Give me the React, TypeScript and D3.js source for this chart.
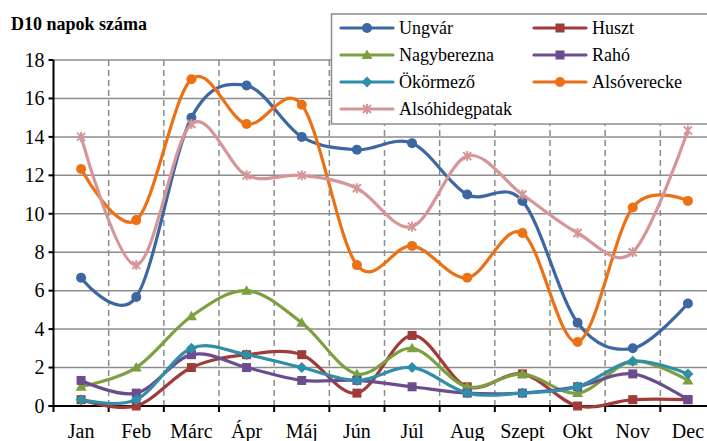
import { useEffect, useRef } from "react";
import * as d3 from "d3";

const months = ["Jan", "Feb", "Márc", "Ápr", "Máj", "Jún", "Júl", "Aug", "Szept", "Okt", "Nov", "Dec"];
const yTicks = [0, 2, 4, 6, 8, 10, 12, 14, 16, 18];

const ungvar = [6.67, 5.67, 15, 16.67, 14, 13.33, 13.67, 11, 10.67, 4.33, 3, 5.33];
const huszt = [0.33, 0, 2, 2.67, 2.67, 0.67, 3.67, 1, 1.67, 0, 0.33, 0.33];
const nagyberezna = [1, 2, 4.67, 6, 4.33, 1.67, 3, 1, 1.67, 0.67, 2.33, 1.33];
const raho = [1.33, 0.67, 2.67, 2, 1.33, 1.33, 1, 0.67, 0.67, 1, 1.67, 0.33];
const okormezo = [0.33, 0.33, 3, 2.67, 2, 1.33, 2, 0.67, 0.67, 1, 2.33, 1.67];
const alsoverecke = [12.33, 9.67, 17, 14.67, 15.67, 7.33, 8.33, 6.67, 9, 3.33, 10.33, 10.67];
const alsohidegpatak = [14, 7.33, 14.67, 12, 12, 11.33, 9.33, 13, 11, 9, 8, 14.33];

type Marker = "circle" | "square" | "triangle" | "diamond" | "star";
type Series = { name: string; values: number[]; color: string; marker: Marker };

const series: Series[] = [
  { name: "Ungvár", values: ungvar, color: "#3d67a2", marker: "circle" },
  { name: "Huszt", values: huszt, color: "#a03b39", marker: "square" },
  { name: "Nagyberezna", values: nagyberezna, color: "#7c9f3f", marker: "triangle" },
  { name: "Rahó", values: raho, color: "#6b4d8d", marker: "square" },
  { name: "Ökörmező", values: okormezo, color: "#2f8ea8", marker: "diamond" },
  { name: "Alsóverecke", values: alsoverecke, color: "#ec7115", marker: "circle" },
  { name: "Alsóhidegpatak", values: alsohidegpatak, color: "#d69596", marker: "star" },
];

const W = 707;
const H = 441;
const FONT = "Liberation Serif, DejaVu Serif, Times New Roman, serif";

function drawMarker(
  g: d3.Selection<SVGGElement, unknown, null, undefined>,
  kind: Marker,
  x: number,
  y: number,
  color: string,
) {
  if (kind === "circle") {
    g.append("circle").attr("cx", x).attr("cy", y).attr("r", 5).attr("fill", color);
  } else if (kind === "square") {
    g.append("rect").attr("x", x - 4.5).attr("y", y - 4.5).attr("width", 9).attr("height", 9).attr("fill", color);
  } else if (kind === "triangle") {
    g.append("path").attr("d", `M${x},${y - 5.5}L${x + 5.5},${y + 4}L${x - 5.5},${y + 4}Z`).attr("fill", color);
  } else if (kind === "diamond") {
    g.append("path").attr("d", `M${x},${y - 5.5}L${x + 5.5},${y}L${x},${y + 5.5}L${x - 5.5},${y}Z`).attr("fill", color);
  } else {
    g.append("path")
      .attr("d", `M${x - 4},${y - 4}L${x + 4},${y + 4}M${x - 4},${y + 4}L${x + 4},${y - 4}M${x},${y - 5}L${x},${y + 5}`)
      .attr("stroke", color)
      .attr("stroke-width", 2)
      .attr("fill", "none");
  }
}

export default function App() {
  const svgRef = useRef<SVGSVGElement>(null);

  useEffect(() => {
    if (!svgRef.current) return;
    const svg = d3.select(svgRef.current);
    svg.selectAll("*").remove();

    const left = 53.5;
    const right = 715.5;
    const top = 60;
    const bottom = 406;

    const x = d3.scaleBand<string>().domain(months).range([left, right]);
    const cx = (i: number) => (x(months[i]) ?? 0) + x.bandwidth() / 2;
    const y = d3.scaleLinear().domain([0, 18]).range([bottom, top]);

    svg.append("rect").attr("width", W).attr("height", H).attr("fill", "#fff");

    // horizontal grid
    svg
      .append("g")
      .selectAll("line")
      .data(yTicks.filter((t) => t > 0))
      .join("line")
      .attr("x1", left)
      .attr("x2", W)
      .attr("y1", (d) => y(d))
      .attr("y2", (d) => y(d))
      .attr("stroke", "#8c8c8c")
      .attr("stroke-width", 1.5);

    // vertical dashed grid at category boundaries
    const bounds = months.slice(1).map((m) => x(m) ?? 0);
    svg
      .append("g")
      .selectAll("line")
      .data(bounds)
      .join("line")
      .attr("x1", (d) => d)
      .attr("x2", (d) => d)
      .attr("y1", top)
      .attr("y2", bottom)
      .attr("stroke", "#8c8c8c")
      .attr("stroke-width", 1.5)
      .attr("stroke-dasharray", "6,4");

    // axes
    const axes = svg.append("g").attr("stroke", "#000").attr("stroke-width", 2);
    axes.append("line").attr("x1", left).attr("x2", left).attr("y1", top).attr("y2", bottom + 6);
    axes.append("line").attr("x1", left - 5).attr("x2", W).attr("y1", bottom).attr("y2", bottom);
    yTicks.forEach((t) => {
      axes.append("line").attr("x1", left - 5).attr("x2", left).attr("y1", y(t)).attr("y2", y(t));
    });
    bounds.forEach((b) => {
      axes.append("line").attr("x1", b).attr("x2", b).attr("y1", bottom).attr("y2", bottom + 6);
    });

    svg
      .append("g")
      .selectAll("text")
      .data(yTicks)
      .join("text")
      .attr("x", left - 9)
      .attr("y", (d) => y(d))
      .attr("dy", "0.34em")
      .attr("text-anchor", "end")
      .style("font-family", FONT)
      .attr("font-size", 20)
      .attr("fill", "#000")
      .text((d) => d);

    svg
      .append("g")
      .selectAll("text")
      .data(months)
      .join("text")
      .attr("x", (_d, i) => cx(i))
      .attr("y", 438)
      .attr("text-anchor", "middle")
      .style("font-family", FONT)
      .attr("font-size", 20)
      .attr("fill", "#000")
      .text((d) => d);

    svg
      .append("text")
      .attr("x", 11)
      .attr("y", 30)
      .style("font-family", FONT)
      .attr("font-size", 18)
      .attr("font-weight", "bold")
      .text("D10 napok száma");

    // series
    const line = d3
      .line<number>()
      .x((_d, i) => cx(i))
      .y((d) => y(d))
      .curve(d3.curveCardinal.tension(0));

    const plot = svg.append("g");
    series.forEach((s) => {
      const g = plot.append("g");
      g.append("path")
        .attr("d", line(s.values))
        .attr("fill", "none")
        .attr("stroke", s.color)
        .attr("stroke-width", 3.2)
        .attr("stroke-linejoin", "round");
      s.values.forEach((v, i) => drawMarker(g, s.marker, cx(i), y(v), s.color));
    });

    // legend
    const lg = svg.append("g");
    lg.append("rect")
      .attr("x", 331.5)
      .attr("y", 14)
      .attr("width", 390)
      .attr("height", 110)
      .attr("fill", "#fff")
      .attr("stroke", "#8c8c8c")
      .attr("stroke-width", 1.5);
    series.forEach((s, i) => {
      const col = i % 2;
      const row = Math.floor(i / 2);
      const lx = col === 0 ? 341 : 534;
      const ly = 28 + row * 27;
      const e = lg.append("g");
      e.append("line")
        .attr("x1", lx)
        .attr("x2", lx + 52)
        .attr("y1", ly)
        .attr("y2", ly)
        .attr("stroke", s.color)
        .attr("stroke-width", 3.2)
        .attr("stroke-linecap", "round");
      drawMarker(e, s.marker, lx + 26, ly, s.color);
      e.append("text")
        .attr("x", lx + 58)
        .attr("y", ly)
        .attr("dy", "0.33em")
        .style("font-family", FONT)
        .attr("font-size", 18)
        .attr("fill", "#000")
        .text(s.name);
    });
  }, []);

  return (
    <svg
      ref={svgRef}
      width={W}
      height={H}
      viewBox={`0 0 ${W} ${H}`}
      style={{ position: "absolute", left: 0, top: 0, display: "block" }}
    />
  );
}
